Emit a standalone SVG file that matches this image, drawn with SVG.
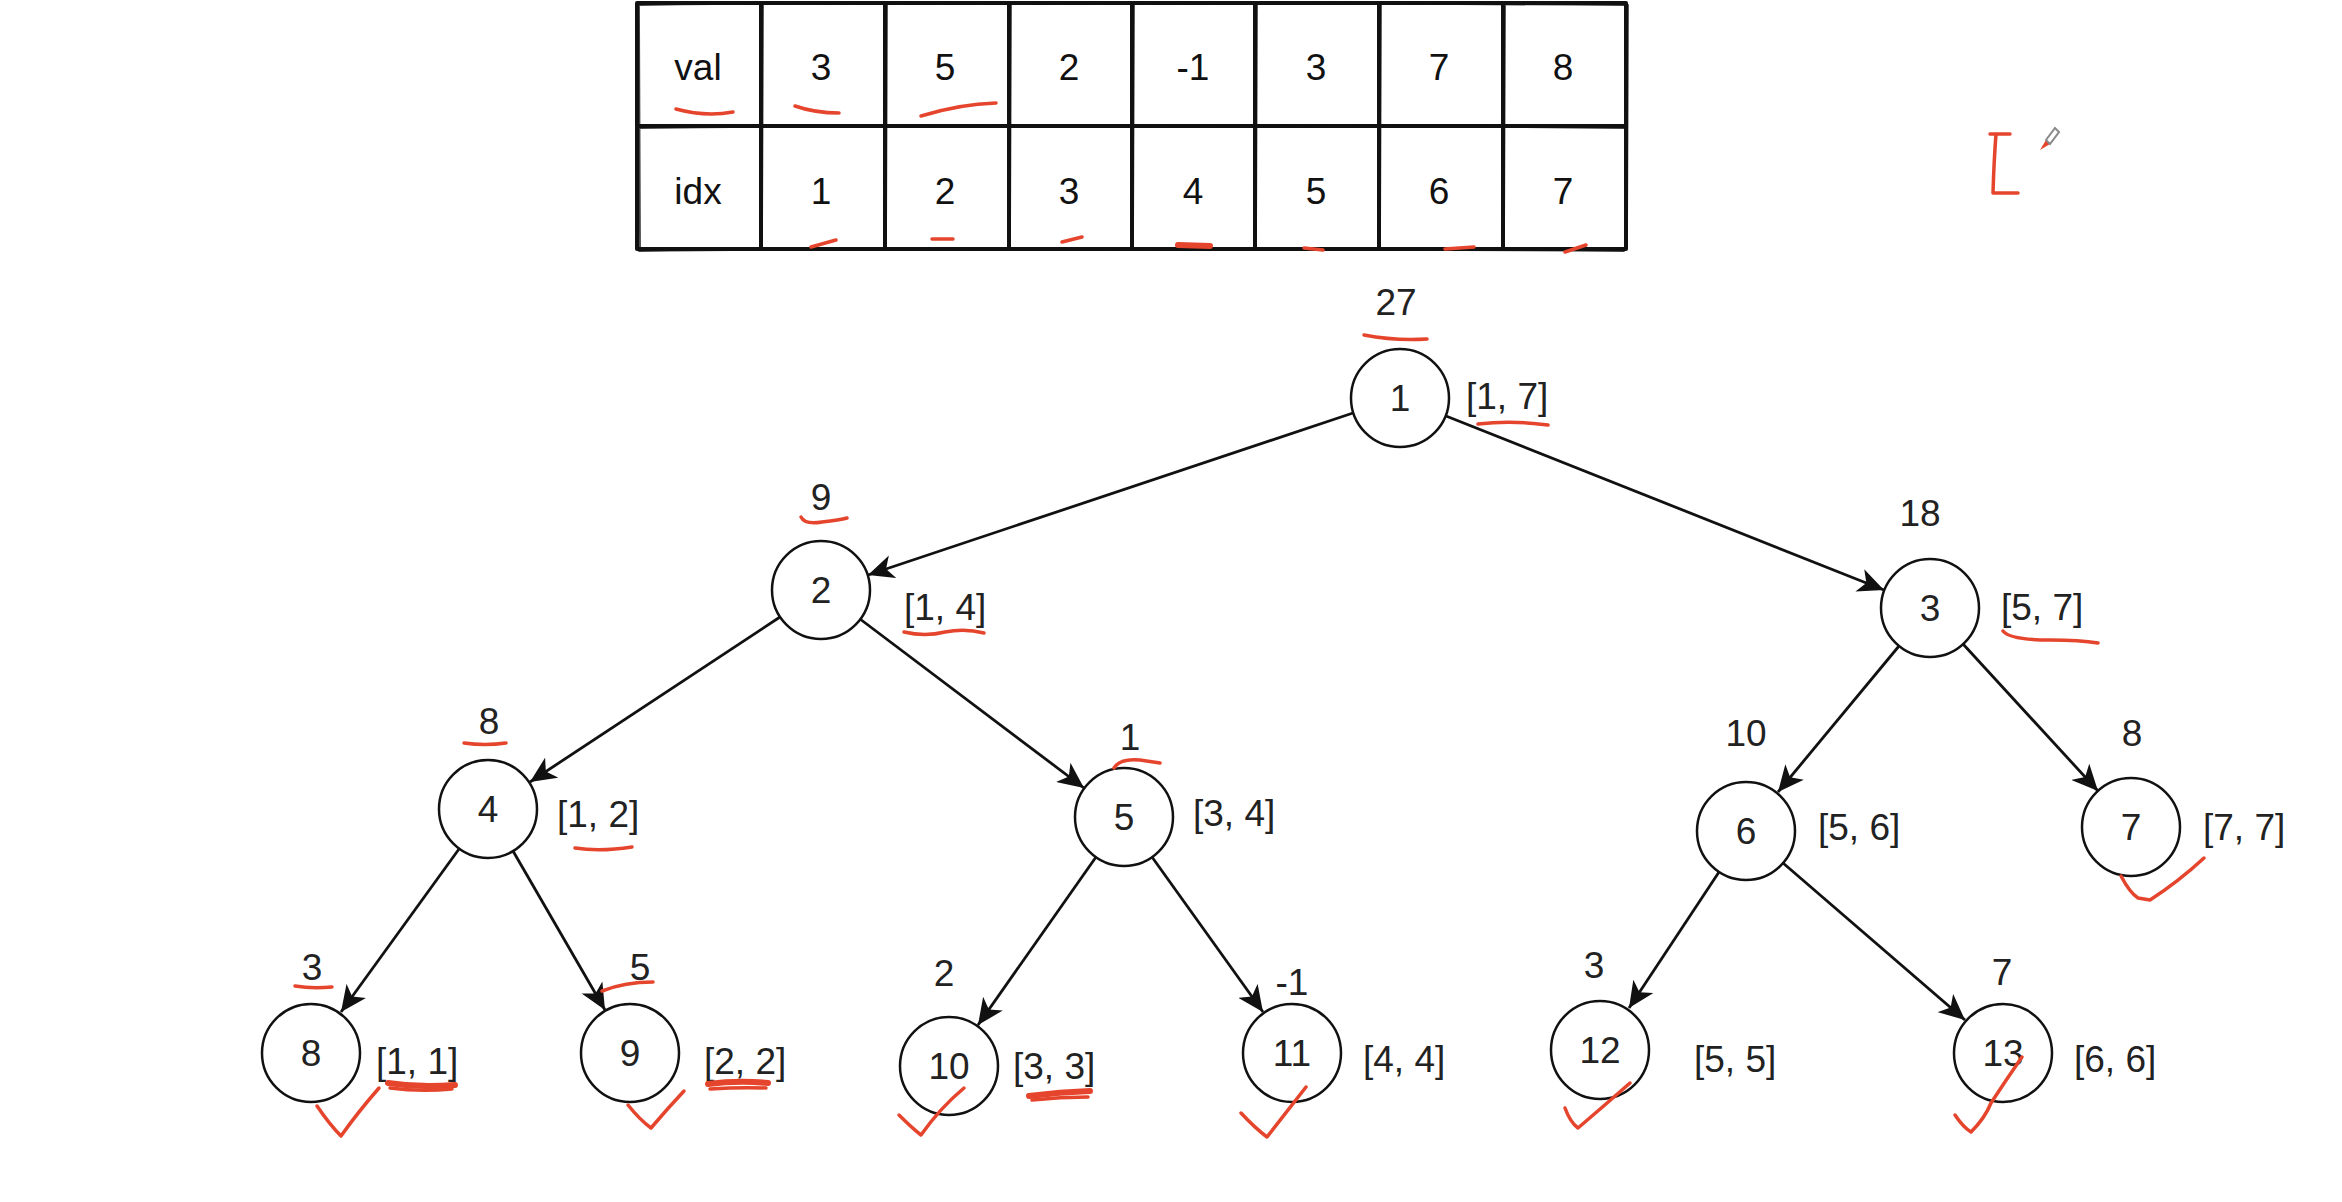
<svg xmlns="http://www.w3.org/2000/svg" width="2342" height="1202" viewBox="0 0 2342 1202">
<style>
  .bg { fill: #ffffff; }
  .grid { fill: none; stroke: #111; stroke-width: 4; stroke-linecap: round; }
  .grid2 { fill: none; stroke: #111; stroke-width: 1.8; stroke-linecap: round; opacity: 0.8; }
  .ttxt { font-family: "Liberation Sans", Arial, sans-serif; font-size: 37px; fill: #111; text-anchor: middle; }
  .node circle { fill: #ffffff; stroke: #111; stroke-width: 2.5; }
  .node text { font-family: "Liberation Sans", Arial, sans-serif; font-size: 37px; fill: #222; }
  .c { text-anchor: middle; }
  .edge { stroke: #111; stroke-width: 2.8; fill: none; marker-end: url(#arrow); }
  .red { fill: none; stroke: #e5452c; stroke-width: 3.5; stroke-linecap: round; stroke-linejoin: round; }
  .redt { fill: none; stroke: #e5452c; stroke-width: 6; stroke-linecap: round; }
</style>
<defs>
  <marker id="arrow" markerUnits="userSpaceOnUse" markerWidth="28" markerHeight="24" refX="26" refY="12" orient="auto">
    <path d="M0,0 L26,12 L0,24 L7,12 Z" fill="#111"/>
  </marker>
</defs>
<rect class="bg" x="0" y="0" width="2342" height="1202"/>

<!-- table -->
<g id="table">
  <path class="grid" d="M637,3 L1626,3 M637,126 L1626,126 M637,249 L1626,249 M637,3 L637,249 M761,3 L761,249 M885,3 L885,249 M1009,3 L1009,249 M1132,3 L1132,249 M1255,3 L1255,249 M1379,3 L1379,249 M1503,3 L1503,249 M1626,3 L1626,249"/>
  <path class="grid2" d="M639,5 Q900,1 1624,5 M639,128 Q1100,123 1624,128 M639,251 Q1000,247 1624,251 M639,5 L640,247 M763,5 L762,247 M887,5 L886,247 M1011,5 L1010,247 M1134,5 L1133,247 M1257,5 L1256,247 M1381,5 L1380,247 M1505,5 L1504,247 M1628,5 L1627,247"/>
  <text class="ttxt" x="698" y="80">val</text>
  <text class="ttxt" x="821" y="80">3</text>
  <text class="ttxt" x="945" y="80">5</text>
  <text class="ttxt" x="1069" y="80">2</text>
  <text class="ttxt" x="1193" y="80">-1</text>
  <text class="ttxt" x="1316" y="80">3</text>
  <text class="ttxt" x="1439" y="80">7</text>
  <text class="ttxt" x="1563" y="80">8</text>
  <text class="ttxt" x="698" y="204">idx</text>
  <text class="ttxt" x="821" y="204">1</text>
  <text class="ttxt" x="945" y="204">2</text>
  <text class="ttxt" x="1069" y="204">3</text>
  <text class="ttxt" x="1193" y="204">4</text>
  <text class="ttxt" x="1316" y="204">5</text>
  <text class="ttxt" x="1439" y="204">6</text>
  <text class="ttxt" x="1563" y="204">7</text>
</g>

<!-- connectors -->
<g id="connectors">
  <line class="edge" x1="1353" y1="413" x2="868" y2="575"/>
  <line class="edge" x1="1446" y1="416" x2="1884" y2="590"/>
  <line class="edge" x1="780" y1="617" x2="530" y2="782"/>
  <line class="edge" x1="860" y1="619" x2="1084" y2="788"/>
  <line class="edge" x1="1899" y1="646" x2="1778" y2="792"/>
  <line class="edge" x1="1963" y1="644" x2="2098" y2="791"/>
  <line class="edge" x1="459" y1="849" x2="341" y2="1012"/>
  <line class="edge" x1="513" y1="851" x2="605" y2="1010"/>
  <line class="edge" x1="1096" y1="857" x2="978" y2="1025"/>
  <line class="edge" x1="1152" y1="857" x2="1263" y2="1012"/>
  <line class="edge" x1="1719" y1="872" x2="1629" y2="1008"/>
  <line class="edge" x1="1783" y1="863" x2="1965" y2="1020"/>
</g>

<!-- nodes -->
<g id="node1" class="node"><circle cx="1400" cy="398" r="49"/><text class="c" x="1400" y="411">1</text><text class="c" x="1396" y="315">27</text><text x="1466" y="409">[1, 7]</text></g>
<g id="node2" class="node"><circle cx="821" cy="590" r="49"/><text class="c" x="821" y="603">2</text><text class="c" x="821" y="510">9</text><text x="904" y="620">[1, 4]</text></g>
<g id="node3" class="node"><circle cx="1930" cy="608" r="49"/><text class="c" x="1930" y="621">3</text><text class="c" x="1920" y="526">18</text><text x="2001" y="620">[5, 7]</text></g>
<g id="node4" class="node"><circle cx="488" cy="809" r="49"/><text class="c" x="488" y="822">4</text><text class="c" x="489" y="734">8</text><text x="557" y="827">[1, 2]</text></g>
<g id="node5" class="node"><circle cx="1124" cy="817" r="49"/><text class="c" x="1124" y="830">5</text><text class="c" x="1130" y="750">1</text><text x="1193" y="826">[3, 4]</text></g>
<g id="node6" class="node"><circle cx="1746" cy="831" r="49"/><text class="c" x="1746" y="844">6</text><text class="c" x="1746" y="746">10</text><text x="1818" y="840">[5, 6]</text></g>
<g id="node7" class="node"><circle cx="2131" cy="827" r="49"/><text class="c" x="2131" y="840">7</text><text class="c" x="2132" y="746">8</text><text x="2203" y="840">[7, 7]</text></g>
<g id="node8" class="node"><circle cx="311" cy="1053" r="49"/><text class="c" x="311" y="1066">8</text><text class="c" x="312" y="980">3</text><text x="376" y="1074">[1, 1]</text></g>
<g id="node9" class="node"><circle cx="630" cy="1053" r="49"/><text class="c" x="630" y="1066">9</text><text class="c" x="640" y="980">5</text><text x="704" y="1074">[2, 2]</text></g>
<g id="node10" class="node"><circle cx="949" cy="1066" r="49"/><text class="c" x="949" y="1079">10</text><text class="c" x="944" y="986">2</text><text x="1013" y="1079">[3, 3]</text></g>
<g id="node11" class="node"><circle cx="1292" cy="1053" r="49"/><text class="c" x="1292" y="1066">11</text><text class="c" x="1292" y="995">-1</text><text x="1363" y="1072">[4, 4]</text></g>
<g id="node12" class="node"><circle cx="1600" cy="1050" r="49"/><text class="c" x="1600" y="1063">12</text><text class="c" x="1594" y="978">3</text><text x="1694" y="1072">[5, 5]</text></g>
<g id="node13" class="node"><circle cx="2003" cy="1053" r="49"/><text class="c" x="2003" y="1066">13</text><text class="c" x="2002" y="985">7</text><text x="2074" y="1072">[6, 6]</text></g>

<!-- red annotations -->
<g id="annotations">
  <path class="red" d="M676,109 Q705,117 733,112"/>
  <path class="red" d="M795,106 Q815,113 839,113"/>
  <path class="red" d="M921,116 Q960,104 996,103"/>
  <path class="red" d="M811,247 L836,240"/>
  <path class="red" d="M932,239 L953,239"/>
  <path class="red" d="M1062,242 L1082,237"/>
  <path class="redt" d="M1178,245 L1210,246"/>
  <path class="red" d="M1304,248 L1323,250"/>
  <path class="red" d="M1445,249 L1474,247"/>
  <path class="red" d="M1565,252 L1586,245"/>

  <path class="red" d="M1364,335 Q1395,341 1427,339"/>
  <path class="red" d="M1478,424 Q1512,420 1548,425"/>
  <path class="red" d="M801,517 Q805,525 822,522 Q840,520 847,518"/>
  <path class="red" d="M904,632 Q925,637 945,632 Q965,628 984,633"/>
  <path class="red" d="M2003,631 Q2010,640 2050,640 Q2080,640 2098,643"/>
  <path class="red" d="M464,743 Q485,746 506,743"/>
  <path class="red" d="M575,848 Q600,852 632,847"/>
  <path class="red" d="M1114,768 Q1120,758 1140,760 L1160,763"/>
  <path class="red" d="M295,986 Q312,989 332,987"/>
  <path class="redt" d="M388,1083 Q420,1088 455,1085"/>
  <path class="red" d="M390,1088 Q420,1092 452,1089"/>
  <path class="red" d="M602,991 Q625,982 653,982"/>
  <path class="redt" d="M708,1084 Q738,1080 768,1083"/>
  <path class="red" d="M710,1089 Q740,1087 766,1088"/>
  <path class="redt" d="M1029,1096 Q1060,1092 1090,1091"/>
  <path class="red" d="M1032,1100 Q1060,1097 1088,1097"/>

  <path class="red" d="M317,1106 Q330,1125 341,1136 Q358,1112 379,1088"/>
  <path class="red" d="M628,1105 Q640,1120 651,1128 Q668,1108 684,1091"/>
  <path class="red" d="M899,1115 Q912,1128 921,1135 Q940,1108 964,1088"/>
  <path class="red" d="M1241,1113 Q1255,1128 1267,1137 Q1288,1110 1306,1087"/>
  <path class="red" d="M1565,1108 Q1570,1122 1578,1128 Q1605,1105 1630,1083"/>
  <path class="red" d="M1955,1115 Q1963,1127 1971,1132 Q1985,1118 1991,1103 Q2006,1080 2022,1057"/>
  <path class="red" d="M2121,876 Q2130,893 2138,898 L2150,900 Q2178,882 2204,858"/>

  <path class="red" d="M1990,134 L2010,134 M1996,134 Q1994,160 1993,193 L2018,193"/>
  <path d="M2040,150 L2046,140 L2050,144 Z" fill="#e5452c"/>
  <path d="M2046,140 L2055,128 L2059,132 L2050,144 Z" fill="none" stroke="#888" stroke-width="2"/>
</g>
</svg>
